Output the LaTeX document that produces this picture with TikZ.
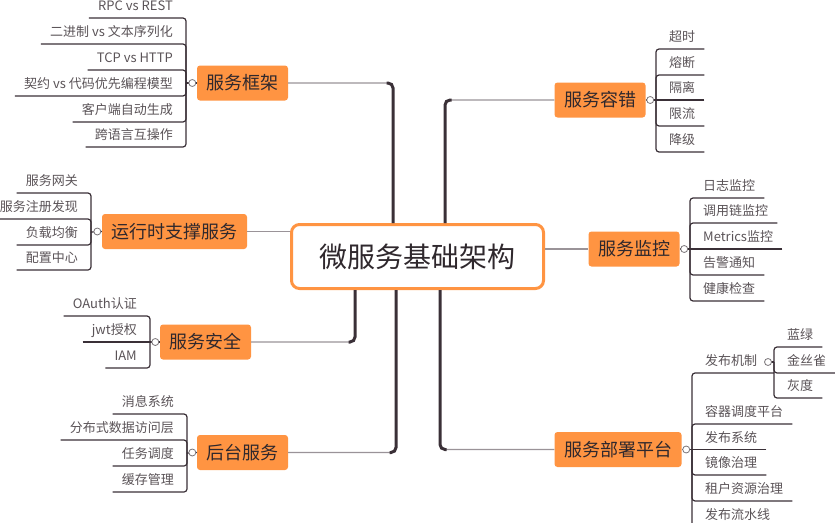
\documentclass[tikz,border=0pt]{standalone}
\usepackage{fontspec}
\setmainfont{Noto Sans CJK SC}
\usepackage{tikz}
\definecolor{topicorange}{HTML}{FF9442}
\definecolor{inkdark}{HTML}{2F282D}
\definecolor{leafgray}{HTML}{5A5357}
\definecolor{linedark}{HTML}{3A3037}
\definecolor{linegray}{HTML}{9A9398}

\begin{document}
\begin{tikzpicture}
    [x=1pt,y=-1pt,
mainnode/.style={rectangle, rounded corners=8pt, draw=topicorange, fill=white, line width=3pt, minimum width=252pt, minimum height=64pt, inner sep=0pt, text=inkdark, font=\fontsize{28}{30}\selectfont},
topicnode/.style={rectangle, rounded corners=3pt, fill=topicorange, minimum height=35pt, inner xsep=9.5pt, inner ysep=0pt, text=inkdark, font=\fontsize{18}{20}\selectfont},
leafleft/.style={anchor=south east, inner xsep=9pt, inner ysep=4pt, text height=11pt, text depth=3pt, text=leafgray, font=\fontsize{13}{15}\selectfont},
leafright/.style={leafleft, anchor=south west},
knobnode/.style={circle, draw=linegray!80!black, fill=white, line width=0.8pt, minimum size=7pt, inner sep=0pt},
stemline/.style={draw=linegray, line width=1.2pt, rounded corners=5pt},
trunkline/.style={draw=linedark, line width=3pt, rounded corners=5pt},
twigline/.style={draw=linedark, line width=1.2pt, rounded corners=3pt}
]
\useasboundingbox (0,0) rectangle (835,522);

\node[mainnode](node0) at (417.5,256.5) {微服务基础架构};
\node[topicnode](node1) at (242.5,83) {服务框架};
\node[topicnode](node2) at (174.5,231.5) {运行时支撑服务};
\node[topicnode](node3) at (205.5,342) {服务安全};
\node[topicnode](node4) at (242.5,452.5) {后台服务};
\node[topicnode](node5) at (600,100) {服务容错};
\node[topicnode](node6) at (634,249) {服务监控};
\node[topicnode](node7) at (618,449.5) {服务部署平台};

% main branches
\draw[stemline] (node1.east) -| ([xshift=-24.5pt]node0.north);
\draw[trunkline] ([xshift=-24.5pt]node0.north) |- ([xshift=-31pt]node0.north |- node1.east);
\draw[stemline] (node5.west) -| ([xshift=27.5pt]node0.north);
\draw[trunkline] ([xshift=27.5pt]node0.north) |- ([xshift=34pt]node0.north |- node5.west);
\draw[stemline] (node3.east) -| ([xshift=-62.5pt]node0.south);
\draw[trunkline] ([xshift=-62.5pt]node0.south) |- ([xshift=-69pt]node0.south |- node3.east);
\draw[stemline] (node4.east) -| ([xshift=-21.5pt]node0.south);
\draw[trunkline] ([xshift=-21.5pt]node0.south) |- ([xshift=-28pt]node0.south |- node4.east);
\draw[stemline] (node7.west) -| ([xshift=22.5pt]node0.south);
\draw[trunkline] ([xshift=22.5pt]node0.south) |- ([xshift=29pt]node0.south |- node7.west);
\draw[stemline] (node2.east) -- (node2.east -| node0.west);
\draw[stemline] (node0.east |- node6.west) -- (node6.west);

% 服务框架
\coordinate (br1) at (186,83);
\node[leafleft](node1a) at (182,18) {RPC vs REST};
\node[leafleft](node1b) at (182,44) {二进制 vs 文本序列化};
\node[leafleft](node1c) at (182,70) {TCP vs HTTP};
\node[leafleft](node1d) at (182,96) {契约 vs 代码优先编程模型};
\node[leafleft](node1e) at (182,122) {客户端自动生成};
\node[leafleft](node1f) at (182,147) {跨语言互操作};
\draw[twigline] (node1a.south west) -| (br1);
\draw[twigline] (node1b.south west) -| (br1);
\draw[twigline] (node1c.south west) -| (br1);
\draw[twigline] (node1d.south west) -| (br1);
\draw[twigline] (node1e.south west) -| (br1);
\draw[twigline] (node1f.south west) -| (br1);
\draw[twigline] (br1) -- (node1.west);

% 运行时支撑服务
\coordinate (br2) at (91,232);
\node[leafleft](node2a) at (87,193) {服务网关};
\node[leafleft](node2b) at (87,219) {服务注册发现};
\node[leafleft](node2c) at (87,245) {负载均衡};
\node[leafleft](node2d) at (87,270) {配置中心};
\draw[twigline] (node2a.south west) -| (br2);
\draw[twigline] (node2b.south west) -| (br2);
\draw[twigline] (node2c.south west) -| (br2);
\draw[twigline] (node2d.south west) -| (br2);
\draw[twigline] (br2) -- (node2.west);

% 服务安全
\coordinate (br3) at (150,342);
\node[leafleft](node3a) at (146,316) {OAuth认证};
\node[leafleft](node3b) at (146,342) {jwt授权};
\node[leafleft](node3c) at (146,368) {IAM};
\draw[twigline] (node3a.south west) -| (br3);
\draw[twigline] (node3b.south west) -- (br3);
\draw[twigline] (node3c.south west) -| (br3);
\draw[twigline] (br3) -- (node3.west);

% 后台服务
\coordinate (br4) at (187,453);
\node[leafleft](node4a) at (183,414) {消息系统};
\node[leafleft](node4b) at (183,440) {分布式数据访问层};
\node[leafleft](node4c) at (183,466) {任务调度};
\node[leafleft](node4d) at (183,492) {缓存管理};
\draw[twigline] (node4a.south west) -| (br4);
\draw[twigline] (node4b.south west) -| (br4);
\draw[twigline] (node4c.south west) -| (br4);
\draw[twigline] (node4d.south west) -| (br4);
\draw[twigline] (br4) -- (node4.west);

% 服务容错
\coordinate (br5) at (656,100);
\node[leafright](node5a) at (660,49) {超时};
\node[leafright](node5b) at (660,75) {熔断};
\node[leafright](node5c) at (660,100) {隔离};
\node[leafright](node5d) at (660,126) {限流};
\node[leafright](node5e) at (660,152) {降级};
\draw[twigline] (node5a.south east) -| (br5);
\draw[twigline] (node5b.south east) -| (br5);
\draw[twigline] (node5c.south east) -- (br5);
\draw[twigline] (node5d.south east) -| (br5);
\draw[twigline] (node5e.south east) -| (br5);
\draw[twigline] (br5) -- (node5.east);

% 服务监控
\coordinate (br6) at (690,249);
\node[leafright](node6a) at (694,198) {日志监控};
\node[leafright](node6b) at (694,223) {调用链监控};
\node[leafright](node6c) at (694,249) {Metrics监控};
\node[leafright](node6d) at (694,275) {告警通知};
\node[leafright](node6e) at (694,301) {健康检查};
\draw[twigline] (node6a.south east) -| (br6);
\draw[twigline] (node6b.south east) -| (br6);
\draw[twigline] (node6c.south east) -- (br6);
\draw[twigline] (node6d.south east) -| (br6);
\draw[twigline] (node6e.south east) -| (br6);
\draw[twigline] (br6) -- (node6.east);

% 服务部署平台
\coordinate (br7) at (692,449.5);
\coordinate (br8) at (774,362);
\node[leafright](node7a) at (696,373) {发布机制};
\node[leafright](node7b) at (696,424) {容器调度平台};
\node[leafright](node7c) at (696,449.5) {发布系统};
\node[leafright](node7d) at (696,475) {镜像治理};
\node[leafright](node7e) at (696,501) {租户资源治理};
\node[leafright](node7f) at (696,527) {发布流水线};
\node[leafright](node8a) at (778,347) {蓝绿};
\node[leafright](node8b) at (778,373) {金丝雀};
\node[leafright](node8c) at (778,398) {灰度};
\draw[twigline] (br8 |- node7a.south) -| (br7);
\draw[twigline] (node7b.south east) -| (br7);
\draw[twigline] (node7c.south east) -- (br7);
\draw[twigline] (node7d.south east) -| (br7);
\draw[twigline] (node7e.south east) -| (br7);
\draw[twigline] (node7f.south east) -| (br7);
\draw[twigline] (br7) -- (node7.east);
\draw[twigline] (node8a.south east) -| (br8);
\draw[twigline] (node8b.south east) -| (br8);
\draw[twigline] (node8c.south east) -| (br8);
\draw[twigline] (br8) -- (node7a.east |- br8);

% knobs
\node[knobnode](knob1) at ([xshift=-4.5pt]node1.west) {};
\node[knobnode](knob2) at ([xshift=-4.5pt]node2.west) {};
\node[knobnode](knob3) at ([xshift=-4.5pt]node3.west) {};
\node[knobnode](knob4) at ([xshift=-4.5pt]node4.west) {};
\node[knobnode](knob5) at ([xshift=4.5pt]node5.east) {};
\node[knobnode](knob6) at ([xshift=4.5pt]node6.east) {};
\node[knobnode](knob7) at ([xshift=4.5pt]node7.east) {};
\node[knobnode](knob8) at (768,362) {};
\end{tikzpicture}
\end{document}
